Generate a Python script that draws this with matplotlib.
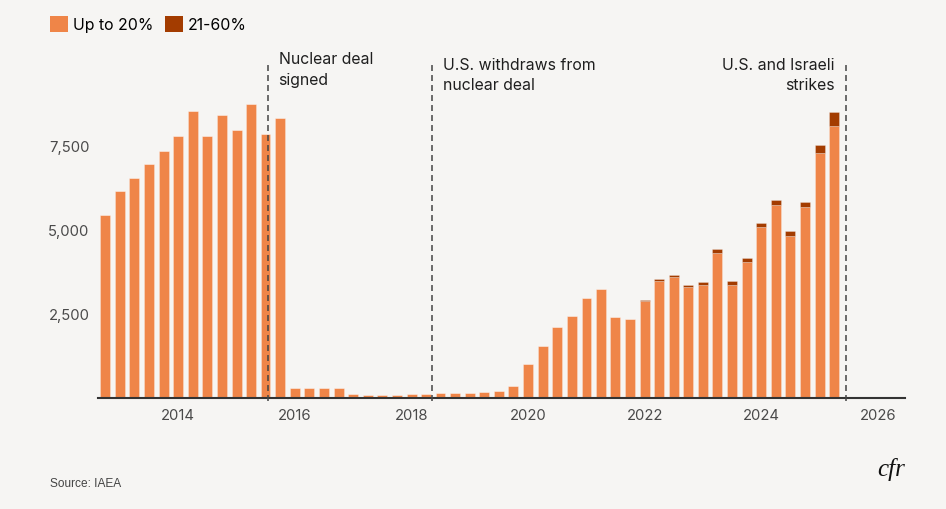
"""Iran enriched uranium stockpile, quarterly (IAEA)"""
import matplotlib
matplotlib.use("Agg")
import matplotlib.pyplot as plt
import matplotlib.transforms as mtransforms
from matplotlib.patches import Patch
import pandas as pd

QUARTERS = [
    "2012-10-01",
    "2013-01-01", "2013-04-01", "2013-07-01", "2013-10-01",
    "2014-01-01", "2014-04-01", "2014-07-01", "2014-10-01",
    "2015-01-01", "2015-04-01", "2015-07-01", "2015-10-01",
    "2016-01-01", "2016-04-01", "2016-07-01", "2016-10-01",
    "2017-01-01", "2017-04-01", "2017-07-01", "2017-10-01",
    "2018-01-01", "2018-04-01", "2018-07-01", "2018-10-01",
    "2019-01-01", "2019-04-01", "2019-07-01", "2019-10-01",
    "2020-01-01", "2020-04-01", "2020-07-01", "2020-10-01",
    "2021-01-01", "2021-04-01", "2021-07-01", "2021-10-01",
    "2022-01-01", "2022-04-01", "2022-07-01", "2022-10-01",
    "2023-01-01", "2023-04-01", "2023-07-01", "2023-10-01",
    "2024-01-01", "2024-04-01", "2024-07-01", "2024-10-01",
    "2025-01-01", "2025-04-01",
]

# kg
UP_TO_20 = [
    5440,
    6140, 6540, 6955, 7350,
    7780, 8520, 7780, 8400,
    7970, 8730, 7860, 8310,
    286, 286, 286, 286,
    110, 95, 95, 95,
    110, 125, 140, 150,
    165, 175, 220, 360,
    1018, 1562, 2098, 2446,
    2961, 3250, 2417, 2357,
    2880, 3487, 3595, 3287,
    3347, 4310, 3352, 4036,
    5078, 5732, 4819, 5663,
    7270, 8084,
]
PCT_21_60 = [
    0,
    0, 0, 0, 0,
    0, 0, 0, 0,
    0, 0, 0, 0,
    0, 0, 0, 0,
    0, 0, 0, 0,
    0, 0, 0, 0,
    0, 0, 0, 0,
    0, 0, 0, 0,
    0, 0, 0, 0,
    40, 40, 60, 70,
    90, 120, 130, 130,
    130, 160, 160, 170,
    260, 407,
]

EVENT_DATES = ["2015-07-14", "2018-05-08", "2025-06-13"]
EVENT_LABELS = ["Nuclear deal\nsigned", "U.S. withdraws from\nnuclear deal",
                "U.S. and Israeli\nstrikes"]

YTICKS = [2500, 5000, 7500]
XTICK_YEARS = [2014, 2016, 2018, 2020, 2022, 2024, 2026]

BG = "#f6f5f3"
ORANGE = "#ef8548"
DARK = "#a33c00"

plt.rcParams["font.family"] = ["Inter", "DejaVu Sans"]
plt.rcParams["lines.scale_dashes"] = False

fig = plt.figure(figsize=(9.46, 5.10), dpi=100, facecolor=BG)
ax = fig.add_axes([0.1036, 0.2174, 0.8531, 0.6601])
ax.set_facecolor(BG)

x = pd.to_datetime(QUARTERS)
width = 62  # days
edge = (1, 1, 1, 0.3)
ax.bar(x, UP_TO_20, width=width, color=ORANGE, edgecolor=edge, linewidth=0.6)
ax.bar(x, PCT_21_60, width=width, bottom=UP_TO_20, color=DARK,
       edgecolor=edge, linewidth=0.6)

ax.set_xlim(pd.Timestamp("2012-08-16"), pd.Timestamp("2026-06-19"))
ax.set_ylim(0, 10000)

# event lines + labels
trans = mtransforms.blended_transform_factory(ax.transData, ax.transAxes)
text_y = [1.030, 1.013, 1.013]
for i, (d, lab) in enumerate(zip(EVENT_DATES, EVENT_LABELS)):
    xd = pd.Timestamp(d)
    ax.axvline(xd, ymin=-0.01, ymax=1.0, color="#444444", linewidth=1.1,
               dashes=(4.3, 2.9), zorder=3, clip_on=False)
    if i == 2:
        off = mtransforms.ScaledTranslation(-11 / 100, 0, fig.dpi_scale_trans)
        ha = "right"
    else:
        off = mtransforms.ScaledTranslation(11 / 100, 0, fig.dpi_scale_trans)
        ha = "left"
    ax.text(xd, text_y[i], lab, transform=trans + off, ha=ha, va="top",
            fontsize=11.4, color="#1f1f1f", linespacing=1.45)

ax.set_yticks(YTICKS)
ax.set_yticklabels([f"{v:,}" for v in YTICKS])
ax.set_xticks([pd.Timestamp(f"{y}-01-01") for y in XTICK_YEARS])
ax.set_xticklabels([str(y) for y in XTICK_YEARS])
ax.tick_params(axis="both", length=0, labelsize=10.7, labelcolor="#4a4a4a")
ax.tick_params(axis="y", pad=6)
ax.tick_params(axis="x", pad=7)

for side in ["top", "right", "left"]:
    ax.spines[side].set_visible(False)
ax.spines["bottom"].set_color("#333333")
ax.spines["bottom"].set_linewidth(1.5)

handles = [Patch(facecolor=ORANGE, label="Up to 20%"),
           Patch(facecolor=DARK, label="21-60%")]
fig.legend(handles=handles, loc="upper left", bbox_to_anchor=(50 / 946, 1 - 17 / 510),
           ncol=2, frameon=False, fontsize=11.4, handlelength=1.15,
           handleheight=1.15, handletextpad=0.3, columnspacing=0.75,
           borderpad=0, borderaxespad=0)

fig.text(50 / 946, 1 - 484 / 510, "Source: IAEA", fontsize=8.6, color="#444444",
         va="center", ha="left", family=["Liberation Sans Narrow", "Liberation Sans"])
fig.text(891 / 946, 1 - 470 / 510, "cfr", fontsize=18, color="#111111",
         va="center", ha="center", family="Liberation Serif", style="italic")

fig.savefig("out.png", dpi=100, facecolor=BG)
